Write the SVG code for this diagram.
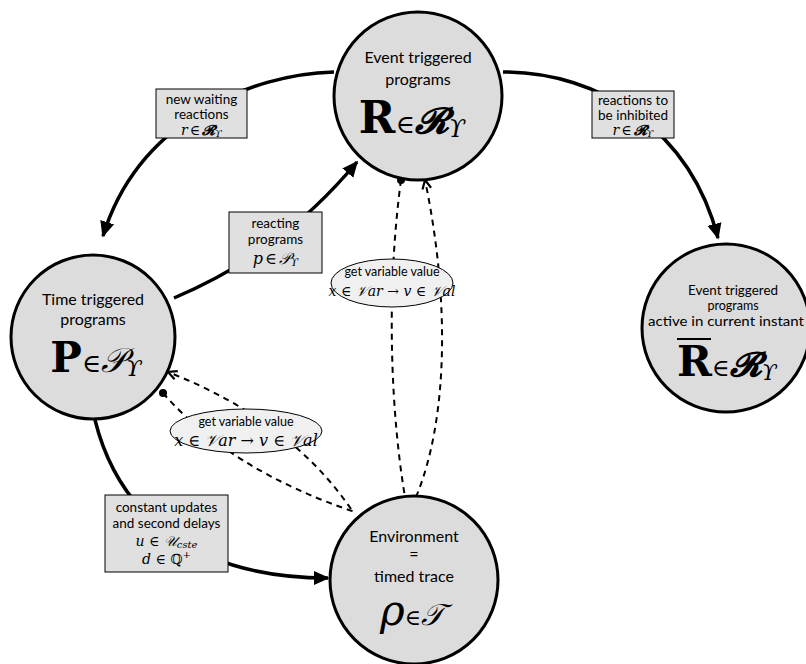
<svg xmlns="http://www.w3.org/2000/svg" width="806" height="664" viewBox="0 0 806 664">
<style>
.node{fill:#dcdcdc;stroke:#000;stroke-width:3}
.box{fill:#e0e0e0;stroke:#000;stroke-width:1}
.ell{fill:#f0f0f0;stroke:#000;stroke-width:1}
.t{font-family:Lato,'Open Sans','Liberation Sans',sans-serif;font-size:16px;text-anchor:middle;fill:#000}
.bt{font-family:Lato,'Open Sans','Liberation Sans',sans-serif;font-size:13.5px;text-anchor:middle;fill:#000}
.rt{font-family:Lato,'Open Sans','Liberation Sans',sans-serif;font-size:12.5px;text-anchor:middle;fill:#000}
.et{font-family:Lato,'Open Sans','Liberation Sans',sans-serif;font-size:12.5px;text-anchor:middle;fill:#000}
.m{font-family:'DejaVu Serif','Liberation Serif',serif;text-anchor:middle;fill:#000}
.ms{font-family:'DejaVu Serif','Liberation Serif',serif;text-anchor:start;fill:#000}
.solid{fill:none;stroke:#000;stroke-width:3.5}
.dash{fill:none;stroke:#000;stroke-width:2;stroke-dasharray:6 5}
</style>
<defs>
<marker id="ah" viewBox="0 0 10 10" refX="9" refY="5" markerWidth="16" markerHeight="16" markerUnits="userSpaceOnUse" orient="auto"><path d="M0,0.5 L10,5 L0,9.5 z" fill="#000"/></marker>
<marker id="oa" viewBox="0 0 10 10" refX="9" refY="5" markerWidth="11" markerHeight="11" markerUnits="userSpaceOnUse" orient="auto"><path d="M1,1 L9,5 L1,9" fill="none" stroke="#000" stroke-width="2"/></marker>
<marker id="dot" viewBox="0 0 10 10" refX="5" refY="5" markerWidth="8" markerHeight="8" markerUnits="userSpaceOnUse"><circle cx="5" cy="5" r="5" fill="#000"/></marker>
</defs>

<g id="connectors">
<path class="solid" d="M334 72 C250 74 138 122 103 236" marker-end="url(#ah)"/>
<path class="solid" d="M503 72 C600 72 690 130 718 238" marker-end="url(#ah)"/>
<path class="solid" d="M174 298 C240 270 300 230 357 162" marker-end="url(#ah)"/>
<path class="solid" d="M95 420 C120 520 200 578 328 578" marker-end="url(#ah)"/>
<path class="dash" d="M401 180 C385 300 392 420 405 497" marker-start="url(#dot)"/>
<path class="dash" d="M416 497 C448 420 450 300 425 180" marker-end="url(#oa)"/>
<path class="dash" d="M163 393 Q230 470 355 512" marker-start="url(#dot)"/>
<path class="dash" d="M351 509 Q290 420 168 372" marker-end="url(#oa)"/>
</g>

<g id="lbl-new-waiting">
<rect class="box" x="156" y="89" width="91" height="49"/>
<text class="bt" x="201.5" y="104">new waiting</text>
<text class="bt" x="201.5" y="119">reactions</text>
<text class="m" x="201.5" y="135" font-size="14"><tspan font-style="italic">r</tspan><tspan dx="2">∈</tspan><tspan dx="2" font-weight="bold" font-style="italic">𝓡</tspan><tspan font-size="10" dy="2" font-style="italic">ϒ</tspan></text>
</g>
<g id="lbl-inhibited">
<rect class="box" x="592" y="91" width="82" height="47"/>
<text class="bt" x="633" y="105">reactions to</text>
<text class="bt" x="633" y="120">be inhibited</text>
<text class="m" x="633" y="135" font-size="14"><tspan font-style="italic">r</tspan><tspan dx="2">∈</tspan><tspan dx="2" font-weight="bold" font-style="italic">𝓡</tspan><tspan font-size="10" dy="2" font-style="italic">ϒ</tspan></text>
</g>
<g id="lbl-reacting">
<rect class="box" x="229" y="212" width="93" height="61"/>
<text class="bt" x="275.5" y="228">reacting</text>
<text class="bt" x="275.5" y="244">programs</text>
<text class="m" x="275.5" y="264" font-size="16"><tspan font-style="italic">p</tspan><tspan dx="2">∈</tspan><tspan dx="2" font-style="italic">𝒫</tspan><tspan font-size="11" dy="2" font-style="italic">ϒ</tspan></text>
</g>
<g id="lbl-constant">
<rect class="box" x="105" y="495" width="123" height="77"/>
<text class="bt" x="166.5" y="512">constant updates</text>
<text class="bt" x="166.5" y="528">and second delays</text>
<text class="m" x="166.5" y="546" font-size="14"><tspan font-style="italic">u</tspan> ∈ <tspan font-style="italic">𝒰</tspan><tspan font-size="10" dy="2" font-style="italic">cste</tspan></text>
<text class="m" x="166.5" y="564" font-size="14"><tspan font-style="italic">d</tspan> ∈ ℚ<tspan font-size="10" dy="-6">+</tspan></text>
</g>
<g id="lbl-get-top">
<ellipse class="ell" cx="392" cy="283" rx="61" ry="24"/>
<text class="et" x="392" y="276">get variable value</text>
<text class="m" x="392" y="296" font-size="14"><tspan font-style="italic">x</tspan> ∈ <tspan font-style="italic">𝒱ar</tspan> → <tspan font-style="italic">v</tspan> ∈ <tspan font-style="italic">𝒱al</tspan></text>
</g>
<g id="lbl-get-left">
<ellipse class="ell" cx="246" cy="431" rx="76" ry="22"/>
<text class="et" x="246" y="426">get variable value</text>
<text class="m" x="246" y="446" font-size="16"><tspan font-style="italic">x</tspan> ∈ <tspan font-style="italic">𝒱ar</tspan> → <tspan font-style="italic">v</tspan> ∈ <tspan font-style="italic">𝒱al</tspan></text>
</g>

<g id="node-R">
<circle class="node" cx="418" cy="96" r="84"/>
<text class="t" x="418" y="63">Event triggered</text>
<text class="t" x="418" y="85">programs</text>
<text class="m" x="412" y="133"><tspan font-size="44" font-weight="bold">R</tspan><tspan font-size="26">∈</tspan><tspan font-size="36" font-weight="bold" font-style="italic">𝓡</tspan><tspan font-size="24" dy="4" font-style="italic">ϒ</tspan></text>
</g>
<g id="node-P">
<circle class="node" cx="93" cy="337" r="82"/>
<text class="t" x="93" y="305">Time triggered</text>
<text class="t" x="93" y="325">programs</text>
<text class="m" x="96" y="372"><tspan font-size="42" font-weight="bold">P</tspan><tspan font-size="26">∈</tspan><tspan font-size="34" font-style="italic">𝒫</tspan><tspan font-size="23" dy="4" font-style="italic">ϒ</tspan></text>
</g>
<g id="node-Rbar">
<circle class="node" cx="726" cy="328" r="84"/>
<text class="rt" x="733" y="295" textLength="90" lengthAdjust="spacingAndGlyphs">Event triggered</text>
<text class="rt" x="733" y="310">programs</text>
<text class="rt" x="726" y="326" textLength="156" lengthAdjust="spacingAndGlyphs">active in current instant</text>
<line x1="677" y1="339" x2="711" y2="339" stroke="#000" stroke-width="2"/>
<text class="ms" x="677" y="376"><tspan font-size="42" font-weight="bold">R</tspan><tspan font-size="24">∈</tspan><tspan font-size="34" font-weight="bold" font-style="italic">𝓡</tspan><tspan font-size="22" dy="4" font-style="italic">ϒ</tspan></text>
</g>
<g id="node-env">
<circle class="node" cx="414" cy="580" r="84"/>
<text class="t" x="414" y="542">Environment</text>
<text class="t" x="414" y="560">=</text>
<text class="t" x="414" y="582">timed trace</text>
<text class="m" x="412" y="625"><tspan font-size="42" font-style="italic">ρ</tspan><tspan font-size="22">∈</tspan><tspan font-size="30" font-style="italic">𝒯</tspan></text>
</g>
</svg>
